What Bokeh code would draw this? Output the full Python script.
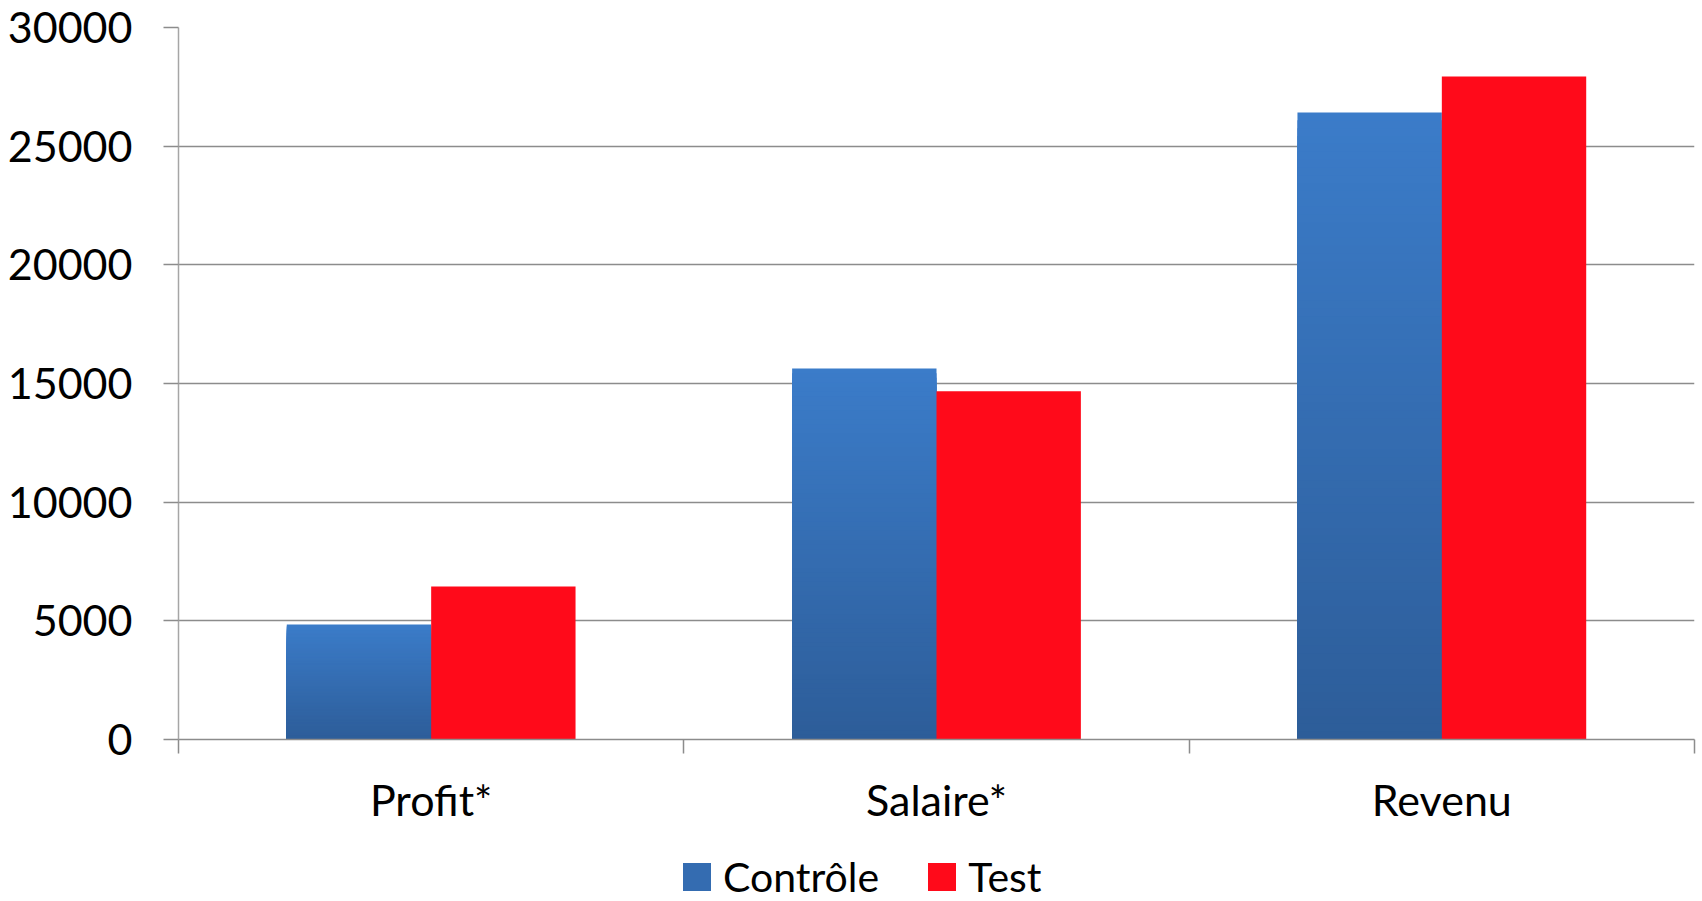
import numpy as np
from bokeh.plotting import figure
from bokeh.layouts import column
from bokeh.models import Range1d, FixedTicker, Legend, LegendItem
from bokeh.embed import file_html
from bokeh.resources import INLINE

categories = ["Profit*", "Salaire*", "Revenu"]
controle = [4850, 15630, 26420]
test = [6450, 14670, 27940]
y_ticks = [0, 5000, 10000, 15000, 20000, 25000, 30000]
series_names = ["Contrôle", "Test"]

FONT = "Lato"
GRID = "#8C8C8C"
RED = "#FF0A1A"
top_rgb = np.array([59, 124, 201])
bot_rgb = np.array([45, 93, 153])

p = figure(width=1702, height=830, output_backend="svg", toolbar_location=None,
           x_range=Range1d(0, len(categories)), y_range=Range1d(0, 30000),
           min_border_left=178, min_border_right=8, min_border_top=27,
           min_border_bottom=91)
p.outline_line_color = None

bw = 0.2857
centers = np.arange(len(categories)) + 0.5
xc = centers - bw / 2
xt = centers + bw / 2

# gradient blue bars (light top -> dark bottom), drawn as nested bars
N = 80
ctrl = np.array(controle, dtype=float)
for k in range(N):
    frac = (N - k) / N
    t = (N - k - 0.5) / N
    rgb = bot_rgb + (top_rgb - bot_rgb) * t
    col = "#%02x%02x%02x" % tuple(int(round(v)) for v in rgb)
    p.vbar(x=xc, width=bw, bottom=0, top=ctrl * frac, fill_color=col, line_color=None)

p.vbar(x=xt, width=bw, bottom=0, top=test, fill_color=RED, line_color=None)

# axes
p.xgrid.visible = False
p.ygrid.grid_line_color = GRID
p.ygrid.grid_line_width = 1.5

xa = p.xaxis[0]
xa.ticker = FixedTicker(ticks=list(centers), minor_ticks=list(range(len(categories) + 1)))
xa.major_label_overrides = {float(c): name for c, name in zip(centers, categories)}
xa.major_tick_line_color = None
xa.major_tick_out = 0
xa.major_tick_in = 0
xa.minor_tick_out = 14
xa.minor_tick_in = 0
xa.minor_tick_line_color = GRID
xa.minor_tick_line_width = 1.5
xa.axis_line_color = GRID
xa.axis_line_width = 1.5
xa.major_label_text_font = FONT
xa.major_label_text_font_size = "43px"
xa.major_label_text_color = "black"
xa.major_label_standoff = 20

ya = p.yaxis[0]
ya.ticker = FixedTicker(ticks=y_ticks)
ya.minor_tick_line_color = None
ya.major_tick_out = 15
ya.major_tick_in = 0
ya.major_tick_line_color = GRID
ya.major_tick_line_width = 1.5
ya.axis_line_color = "#A6A6A6"
ya.axis_line_width = 1.5
ya.major_label_text_font = FONT
ya.major_label_text_font_size = "43px"
ya.major_label_text_color = "black"
ya.major_label_standoff = 31

# legend strip (its renderers are hidden; only the legend shows)
q = figure(width=1702, height=71, output_backend="svg", toolbar_location=None,
           x_axis_type=None, y_axis_type=None,
           x_range=Range1d(0, len(categories)), y_range=Range1d(-2, -1),
           min_border_left=0, min_border_right=0, min_border_top=0, min_border_bottom=0)
q.outline_line_color = None
q.xgrid.visible = False
q.ygrid.visible = False
mid = "#%02x%02x%02x" % tuple(int(round(v)) for v in (bot_rgb + top_rgb) / 2)
r_c = q.vbar(x=xc, top=controle, bottom=0, width=bw, fill_color=mid, line_color=None)
r_t = q.vbar(x=xt, top=test, bottom=0, width=bw, fill_color=RED, line_color=None)
r_c.visible = False
r_t.visible = False

legend = Legend(items=[LegendItem(label=series_names[0], renderers=[r_c]),
                       LegendItem(label=series_names[1], renderers=[r_t])],
                location=(501, 0), orientation="horizontal",
                glyph_width=35, glyph_height=35, label_height=28,
                label_standoff=9, spacing=45, padding=0, margin=0,
                border_line_color=None, background_fill_alpha=0,
                inactive_fill_alpha=0,
                label_text_font=FONT, label_text_font_size="41px",
                label_text_color="black")
q.add_layout(legend, "center")

layout = column(p, q, spacing=0)
open("out.html", "w").write(file_html(layout, INLINE))
